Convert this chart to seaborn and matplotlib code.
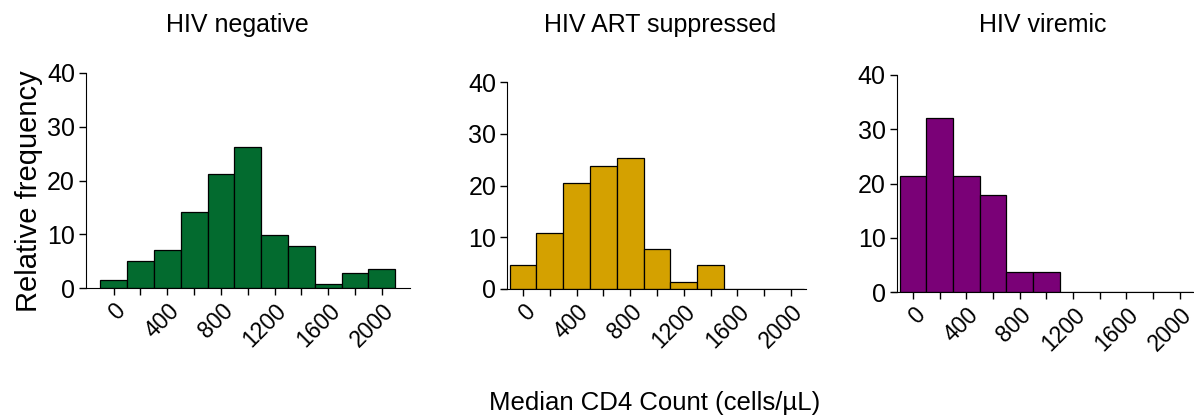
import seaborn as sns
import matplotlib.pyplot as plt
import numpy as np

# bin centres (cells/uL) and relative frequency (%) per group
bin_centres = [0, 200, 400, 600, 800, 1000, 1200, 1400, 1600, 1800, 2000]
freq_negative = [1.4, 5.0, 7.1, 14.1, 21.2, 26.2, 9.8, 7.8, 0.7, 2.7, 3.6]
freq_suppressed = [4.6, 10.9, 20.5, 23.8, 25.3, 7.7, 1.4, 4.6, 0, 0, 0]
freq_viremic = [21.4, 32.0, 21.3, 17.8, 3.6, 3.6, 0, 0, 0, 0, 0]

titles = ['HIV negative', 'HIV ART suppressed', 'HIV viremic']
colors = ['#036b2f', '#d4a100', '#7a0177']
series = [freq_negative, freq_suppressed, freq_viremic]

sns.set_style('ticks')
plt.rcParams['font.family'] = ['Liberation Sans', 'DejaVu Sans']
plt.rcParams['text.color'] = 'black'
plt.rcParams['axes.labelcolor'] = 'black'
plt.rcParams['xtick.color'] = 'black'
plt.rcParams['ytick.color'] = 'black'

fig = plt.figure(figsize=(11.94, 4.17), dpi=100)
W, H = 1194, 417
# (left px, bottom px from top, width px, height px, xlim, left spine position)
boxes = [
    (86, 288, 324, 215, (-206, 2210), None),
    (501.5, 289, 305, 207, (-160, 2115), -117),
    (891.7, 292, 302, 217, (-160, 2105), -122),
]
title_x = [237, 660, 1043]

for i, (vals, title, col, box) in enumerate(zip(series, titles, colors, boxes)):
    left, bot, w, h, xl, spine_x = box
    ax = fig.add_axes([left / W, (H - bot) / H, w / W, h / H])
    sns.histplot(x=bin_centres, weights=vals, binwidth=200, binrange=(-100, 2100),
                 color=col, alpha=1, edgecolor='black', linewidth=0.9, ax=ax)
    ax.set_xlim(*xl)
    ax.set_ylim(0, 40)
    ax.set_yticks([0, 10, 20, 30, 40])
    ax.set_xticks(np.arange(0, 2001, 200))
    ax.set_xticklabels([str(t) if t % 400 == 0 else '' for t in range(0, 2001, 200)],
                       rotation=45, ha='right', rotation_mode='anchor')
    ax.tick_params(axis='y', labelsize=18, length=5, width=1, pad=3)
    ax.tick_params(axis='x', labelsize=16.5, length=5, width=1, pad=3)
    sns.despine(ax=ax)
    ax.spines['left'].set_color('black')
    ax.spines['bottom'].set_color('black')
    if spine_x is not None:
        ax.spines['left'].set_position(('data', spine_x))
        ax.spines['left'].set_bounds(0, 40)
    ax.set_xlabel('')
    ax.set_ylabel('')
    fig.text(title_x[i] / W, 1 - 25 / H, title, ha='center', va='center', fontsize=18)

fig.text(29 / W, 1 - 191 / H, 'Relative frequency', rotation=90,
         ha='center', va='center', fontsize=21)
fig.text(655 / W, 1 - 403 / H, 'Median CD4 Count (cells/µL)', ha='center', va='center', fontsize=18.5)

fig.savefig('out.png', dpi=100)
